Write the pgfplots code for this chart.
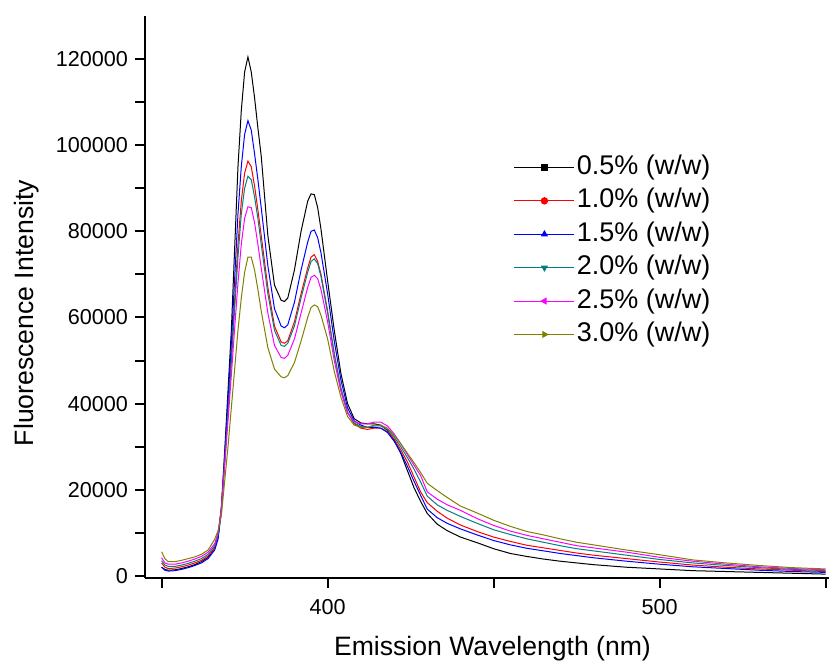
\documentclass[border=0pt]{standalone}
\usepackage{fontspec}
\setmainfont{Liberation Sans}
\usepackage{pgfplots}
\usepackage{pgfplotstable}
\pgfplotsset{compat=1.18}

\definecolor{tealline}{RGB}{0,128,128}
\definecolor{oliveline}{RGB}{128,128,0}
\definecolor{magline}{RGB}{255,0,255}

% emission spectra, columns = concentration (w/w)
\pgfplotstableread{
wl  b05    b10   b15    b20   b25   b30
350 2000   3000  2000   3500  4200  5600
351 1500   2000  1300   2500  3000  4000
352 1300   1700  1100   2200  2700  3300
354 1400   1800  1200   2200  2700  3300
356 1700   2100  1500   2500  3000  3600
358 2100   2500  1900   2900  3400  4000
360 2600   3000  2400   3400  3900  4400
362 3300   3600  3000   4000  4500  5000
364 4300   4600  4000   5000  5500  6000
366 6500   6500  6000   7000  7500  8500
367 9000   9000  8500   9500  10000 10500
368 16000  15500 15000  15500 15500 14000
369 29000  27000 27500  26500 25500 22000
370 43000  39000 41000  38000 36000 30000
371 57000  51000 54000  49500 46500 39000
372 76000  64000 69000  62000 57500 48000
373 95000  77000 84000  74000 68000 57000
374 108000 87000 95000  84000 77000 64500
375 117000 93500 102500 90000 83000 70500
376 120500 96300 105700 92800 85700 74000
377 117000 95000 103500 92000 85500 74000
378 111000 90500 98000  88000 82000 71000
379 104000 85000 92000  83000 77000 66500
380 97500  79000 85500  77000 71500 61500
382 79000  67000 72000  65500 61000 53000
384 67500  58000 62000  57000 53500 48000
386 64000  54300 58000  53500 50700 46200
387 63700  54000 57600  53300 50500 46000
388 64500  54600 58300  54000 51200 46500
390 71000  59000 63500  58000 55000 49500
392 80000  65500 71000  64500 61000 54500
394 87000  71500 77500  70500 67000 60000
395 88700  74000 80000  73000 69300 62300
396 88500  74600 80300  73600 69800 62900
397 85500  73000 78500  72500 69000 62500
398 80500  70000 75000  69500 66500 60500
400 68500  61500 65500  61000 59000 55000
402 57000  51500 54500  51500 50000 47500
404 47000  43500 45500  43500 42800 41500
406 40000  38000 39000  38000 37800 37000
408 36500  35300 36000  35500 35800 35000
410 35500  34300 35000  34700 35300 34500
412 35300  34000 34500  34500 35300 34500
414 35300  34300 34500  34800 35700 35000
416 35000  34300 34300  34800 35700 35000
418 33800  33500 33300  34000 34800 34300
420 31500  31800 31300  32300 33000 32700
422 28500  29300 28700  30000 30700 30700
424 24500  26500 25500  27500 28200 28500
426 20500  23000 22000  24800 25700 26300
428 17300  19500 18700  21800 23300 24000
430 14500  17000 15500  18500 19500 21500
433 12000  15000 13500  16500 17800 19800
436 10500  13400 12200  15200 16500 18200
440 9000   11800 10900  13800 15200 16200
445 7700   10300 9500   12200 13300 14600
450 6300   9000  8200   10700 11700 12900
455 5200   8000  7200   9600  10400 11500
460 4500   7100  6400   8600  9400  10300
465 3900   6500  5800   7800  8600  9500
470 3400   5900  5200   7000  7800  8600
475 3000   5300  4700   6300  7000  7800
480 2600   4800  4200   5800  6500  7200
490 2000   4000  3400   4800  5500  6000
500 1600   3200  2700   3800  4300  4900
510 1200   2500  2100   3000  3400  3700
520 1000   2000  1700   2400  2700  3000
530 800    1600  1300   1900  2100  2400
540 600    1300  1000   1500  1700  1900
550 400    1000  800    1200  1400  1600
}\spectra

\begin{document}
\begin{tikzpicture}
\begin{axis}[
    scale only axis,
    width=342pt, height=281pt,
    xmin=345, xmax=551, ymin=-500, ymax=130000,
    axis lines=left,
    axis line style={-, line width=1pt},
    tick style={line width=1pt, black},
    tick align=outside,
    major tick length=5pt, minor tick length=5pt,
    xtick={350,400,450,500,550},
    xticklabels={,400,,500,},
    ytick={0,20000,...,120000},
    minor ytick={10000,30000,...,110000},
    scaled y ticks=false,
    /pgf/number format/.cd, fixed, 1000 sep={}, assume math mode=true,
    /pgfplots/.cd,
    tick label style={font=\fontsize{10.8}{12}\selectfont},
    xticklabel style={yshift=-2pt},
    xlabel={Emission Wavelength (nm)},
    ylabel={Fluorescence Intensity},
    xlabel style={font=\fontsize{13.3}{15}\selectfont, at={(axis description cs:0.508,-0.1388)}, anchor=base},
    ylabel style={font=\fontsize{13.3}{15}\selectfont, at={(axis description cs:-0.1725,0.4715)}, anchor=center},
    legend style={at={(axis description cs:0.53,0.765)}, anchor=north west,
        draw=none, fill=none, font=\fontsize{13.5}{15}\selectfont,
        row sep=1.7pt,
        nodes={inner sep=1pt, text height=10pt, text depth=3pt}},
    /tikz/every even column/.append style={column sep=2pt},
    legend cell align=left,
    legend image code/.code={
        \draw[#1, mark repeat=2, mark phase=2]
        plot coordinates {(0pt,0pt) (15pt,0pt) (30pt,0pt)};},
    every axis plot/.append style={line width=0.5pt, mark size=1.6pt, mark repeat=1000, mark phase=1000},
]
\addplot[black, mark=square*] table[x=wl, y=b05] {\spectra};
\addlegendentry{0.5\% (w/w)}
\addplot[red, mark=*] table[x=wl, y=b10] {\spectra};
\addlegendentry{1.0\% (w/w)}
\addplot[blue, mark=triangle*] table[x=wl, y=b15] {\spectra};
\addlegendentry{1.5\% (w/w)}
\addplot[tealline, mark=triangle*, mark options={rotate=180}] table[x=wl, y=b20] {\spectra};
\addlegendentry{2.0\% (w/w)}
\addplot[magline, mark=triangle*, mark options={rotate=90}] table[x=wl, y=b25] {\spectra};
\addlegendentry{2.5\% (w/w)}
\addplot[oliveline, mark=triangle*, mark options={rotate=-90}] table[x=wl, y=b30] {\spectra};
\addlegendentry{3.0\% (w/w)}
\end{axis}
\path ([shift={(-72.5pt,-42pt)}]current axis.south west) rectangle ([shift={(5pt,8pt)}]current axis.north east);
\end{tikzpicture}
\end{document}
